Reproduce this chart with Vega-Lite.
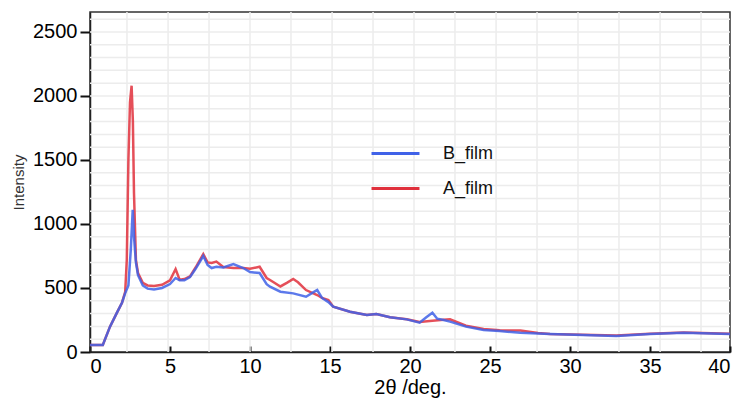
{
  "$schema": "https://vega.github.io/schema/vega-lite/v6.json",
  "width": 640,
  "height": 340,
  "autosize": "none",
  "padding": {"left": 90, "top": 12, "right": 6, "bottom": 54},
  "background": "white",
  "config": {
    "view": {"stroke": "#333333", "strokeWidth": 1.5},
    "font": "Liberation Sans",
    "axisX": {
      "grid": false, "domainColor": "#222222", "domainWidth": 1.5, "format": "d",
      "tickColor": "#111111", "tickWidth": 2, "tickSize": -6, "labelPadding": 10,
      "labelFontSize": 20, "labelColor": "#000000", "labelFont": "Liberation Sans",
      "titleFontSize": 20, "titleColor": "#000000", "titleFontWeight": "normal", "titleFont": "Liberation Sans", "titlePadding": 1
    },
    "axisY": {
      "grid": false, "domainColor": "#222222", "domainWidth": 1.5, "format": "d",
      "tickColor": "#111111", "tickWidth": 2, "tickSize": 10, "labelPadding": 3,
      "labelFontSize": 20, "labelColor": "#000000", "labelFont": "Liberation Sans",
      "titleFontSize": 15, "titleColor": "#333333", "titleFontWeight": "normal", "titlePadding": 6
    }
  },
  "datasets": {
    "vg": [{"x": 2.31}, {"x": 4.88}, {"x": 7.44}, {"x": 10.0}, {"x": 12.56}, {"x": 15.13}, {"x": 17.69}, {"x": 20.25}, {"x": 22.81}, {"x": 25.38}, {"x": 27.94}, {"x": 30.5}, {"x": 33.06}, {"x": 35.63}, {"x": 38.19}],
    "hg": [{"y": 100}, {"y": 200}, {"y": 300}, {"y": 400}, {"y": 500}, {"y": 600}, {"y": 700}, {"y": 800}, {"y": 900}, {"y": 1000}, {"y": 1100}, {"y": 1200}, {"y": 1300}, {"y": 1400}, {"y": 1500}, {"y": 1600}, {"y": 1700}, {"y": 1800}, {"y": 1900}, {"y": 2000}, {"y": 2100}, {"y": 2200}, {"y": 2300}, {"y": 2400}, {"y": 2500}, {"y": 2600}],
    "xrd": [
      {"s": "A_film", "x": 0, "y": 55}, {"s": "A_film", "x": 0.8, "y": 55}, {"s": "A_film", "x": 1.25, "y": 198}, {"s": "A_film", "x": 1.67, "y": 304}, {"s": "A_film", "x": 2.0, "y": 385}, {"s": "A_film", "x": 2.2, "y": 470}, {"s": "A_film", "x": 2.3, "y": 720}, {"s": "A_film", "x": 2.4, "y": 1500}, {"s": "A_film", "x": 2.5, "y": 1950}, {"s": "A_film", "x": 2.6, "y": 2080}, {"s": "A_film", "x": 2.68, "y": 1800}, {"s": "A_film", "x": 2.75, "y": 1240}, {"s": "A_film", "x": 2.87, "y": 720}, {"s": "A_film", "x": 3.0, "y": 617}, {"s": "A_film", "x": 3.3, "y": 540}, {"s": "A_film", "x": 3.6, "y": 520}, {"s": "A_film", "x": 4.0, "y": 515}, {"s": "A_film", "x": 4.5, "y": 525}, {"s": "A_film", "x": 5.0, "y": 560}, {"s": "A_film", "x": 5.35, "y": 648}, {"s": "A_film", "x": 5.6, "y": 565}, {"s": "A_film", "x": 5.9, "y": 570}, {"s": "A_film", "x": 6.25, "y": 590}, {"s": "A_film", "x": 6.6, "y": 660}, {"s": "A_film", "x": 7.08, "y": 765}, {"s": "A_film", "x": 7.35, "y": 700}, {"s": "A_film", "x": 7.6, "y": 695}, {"s": "A_film", "x": 7.9, "y": 706}, {"s": "A_film", "x": 8.33, "y": 664}, {"s": "A_film", "x": 8.96, "y": 656}, {"s": "A_film", "x": 9.58, "y": 656}, {"s": "A_film", "x": 10.0, "y": 650}, {"s": "A_film", "x": 10.6, "y": 666}, {"s": "A_film", "x": 11.04, "y": 578}, {"s": "A_film", "x": 11.25, "y": 562}, {"s": "A_film", "x": 11.9, "y": 512}, {"s": "A_film", "x": 12.3, "y": 540}, {"s": "A_film", "x": 12.7, "y": 570}, {"s": "A_film", "x": 13.0, "y": 545}, {"s": "A_film", "x": 13.5, "y": 484}, {"s": "A_film", "x": 14.2, "y": 445}, {"s": "A_film", "x": 14.5, "y": 422}, {"s": "A_film", "x": 14.9, "y": 406}, {"s": "A_film", "x": 15.2, "y": 354}, {"s": "A_film", "x": 16.25, "y": 315}, {"s": "A_film", "x": 17.3, "y": 289}, {"s": "A_film", "x": 17.9, "y": 297}, {"s": "A_film", "x": 18.75, "y": 271}, {"s": "A_film", "x": 19.8, "y": 255}, {"s": "A_film", "x": 20.6, "y": 235}, {"s": "A_film", "x": 21.4, "y": 245}, {"s": "A_film", "x": 22.1, "y": 252}, {"s": "A_film", "x": 22.5, "y": 255}, {"s": "A_film", "x": 23.5, "y": 205}, {"s": "A_film", "x": 24.6, "y": 180}, {"s": "A_film", "x": 25.6, "y": 170}, {"s": "A_film", "x": 26.9, "y": 167}, {"s": "A_film", "x": 28.0, "y": 148}, {"s": "A_film", "x": 28.75, "y": 141}, {"s": "A_film", "x": 30.8, "y": 135}, {"s": "A_film", "x": 32.9, "y": 128}, {"s": "A_film", "x": 35, "y": 142}, {"s": "A_film", "x": 37.1, "y": 152}, {"s": "A_film", "x": 40, "y": 143},
      {"s": "B_film", "x": 0, "y": 55}, {"s": "B_film", "x": 0.8, "y": 55}, {"s": "B_film", "x": 1.25, "y": 198}, {"s": "B_film", "x": 1.67, "y": 304}, {"s": "B_film", "x": 2.0, "y": 385}, {"s": "B_film", "x": 2.2, "y": 460}, {"s": "B_film", "x": 2.4, "y": 520}, {"s": "B_film", "x": 2.55, "y": 800}, {"s": "B_film", "x": 2.67, "y": 1110}, {"s": "B_film", "x": 2.75, "y": 900}, {"s": "B_film", "x": 2.87, "y": 700}, {"s": "B_film", "x": 3.0, "y": 600}, {"s": "B_film", "x": 3.3, "y": 520}, {"s": "B_film", "x": 3.6, "y": 495}, {"s": "B_film", "x": 4.0, "y": 488}, {"s": "B_film", "x": 4.5, "y": 500}, {"s": "B_film", "x": 5.0, "y": 531}, {"s": "B_film", "x": 5.35, "y": 578}, {"s": "B_film", "x": 5.6, "y": 560}, {"s": "B_film", "x": 5.9, "y": 560}, {"s": "B_film", "x": 6.25, "y": 585}, {"s": "B_film", "x": 6.6, "y": 650}, {"s": "B_film", "x": 7.08, "y": 750}, {"s": "B_film", "x": 7.35, "y": 680}, {"s": "B_film", "x": 7.6, "y": 656}, {"s": "B_film", "x": 7.9, "y": 666}, {"s": "B_film", "x": 8.33, "y": 660}, {"s": "B_film", "x": 8.96, "y": 687}, {"s": "B_film", "x": 9.58, "y": 656}, {"s": "B_film", "x": 10.0, "y": 625}, {"s": "B_film", "x": 10.6, "y": 617}, {"s": "B_film", "x": 11.04, "y": 530}, {"s": "B_film", "x": 11.25, "y": 510}, {"s": "B_film", "x": 11.9, "y": 471}, {"s": "B_film", "x": 12.7, "y": 458}, {"s": "B_film", "x": 13.5, "y": 432}, {"s": "B_film", "x": 14.0, "y": 470}, {"s": "B_film", "x": 14.2, "y": 484}, {"s": "B_film", "x": 14.5, "y": 422}, {"s": "B_film", "x": 14.9, "y": 390}, {"s": "B_film", "x": 15.2, "y": 354}, {"s": "B_film", "x": 16.25, "y": 315}, {"s": "B_film", "x": 17.3, "y": 289}, {"s": "B_film", "x": 17.9, "y": 297}, {"s": "B_film", "x": 18.75, "y": 271}, {"s": "B_film", "x": 19.8, "y": 255}, {"s": "B_film", "x": 20.6, "y": 229}, {"s": "B_film", "x": 21.0, "y": 270}, {"s": "B_film", "x": 21.4, "y": 307}, {"s": "B_film", "x": 21.7, "y": 260}, {"s": "B_film", "x": 22.1, "y": 250}, {"s": "B_film", "x": 22.5, "y": 237}, {"s": "B_film", "x": 23.5, "y": 198}, {"s": "B_film", "x": 24.6, "y": 172}, {"s": "B_film", "x": 25.6, "y": 164}, {"s": "B_film", "x": 26.9, "y": 150}, {"s": "B_film", "x": 28.0, "y": 145}, {"s": "B_film", "x": 28.75, "y": 140}, {"s": "B_film", "x": 30.8, "y": 132}, {"s": "B_film", "x": 32.9, "y": 125}, {"s": "B_film", "x": 35, "y": 140}, {"s": "B_film", "x": 37.1, "y": 150}, {"s": "B_film", "x": 40, "y": 140}
    ]
  },
  "layer": [
    {
      "data": {"name": "vg"},
      "mark": {"type": "rule", "color": "#ececec", "strokeWidth": 1.5},
      "encoding": {
        "x": {"field": "x", "type": "quantitative", "scale": {"domain": [0, 40], "nice": false, "zero": false},
          "axis": {"title": "2θ /deg.", "values": [0, 5, 10, 15, 20, 25, 30, 35, 40]}}
      }
    },
    {
      "data": {"name": "hg"},
      "mark": {"type": "rule", "color": "#ececec", "strokeWidth": 1.5},
      "encoding": {
        "y": {"field": "y", "type": "quantitative", "scale": {"domain": [0, 2656], "nice": false},
          "axis": {"title": "Intensity", "values": [0, 500, 1000, 1500, 2000, 2500]}}
      }
    },
    {
      "data": {"name": "xrd"},
      "mark": {"type": "line", "strokeWidth": 2.5, "strokeOpacity": 0.85, "interpolate": "linear"},
      "encoding": {
        "x": {"field": "x", "type": "quantitative", "scale": {"domain": [0, 40], "nice": false, "zero": false},
          "axis": {"title": "2θ /deg.", "values": [0, 5, 10, 15, 20, 25, 30, 35, 40]}},
        "y": {"field": "y", "type": "quantitative", "scale": {"domain": [0, 2656], "nice": false},
          "axis": {"title": "Intensity", "values": [0, 500, 1000, 1500, 2000, 2500]}},
        "color": {
          "field": "s", "type": "nominal",
          "scale": {"domain": ["B_film", "A_film"], "range": ["#4062e8", "#e0303c"]},
          "legend": {
            "title": null, "orient": "none", "legendX": 280, "legendY": 116,
            "symbolType": "stroke", "symbolSize": 2300, "symbolStrokeWidth": 3,
            "labelFontSize": 18, "labelColor": "#111111", "labelOffset": 22, "rowPadding": -14,
            "labelFont": "Liberation Sans"
          }
        },
        "order": {"field": "x", "type": "quantitative"}
      }
    }
  ]
}
